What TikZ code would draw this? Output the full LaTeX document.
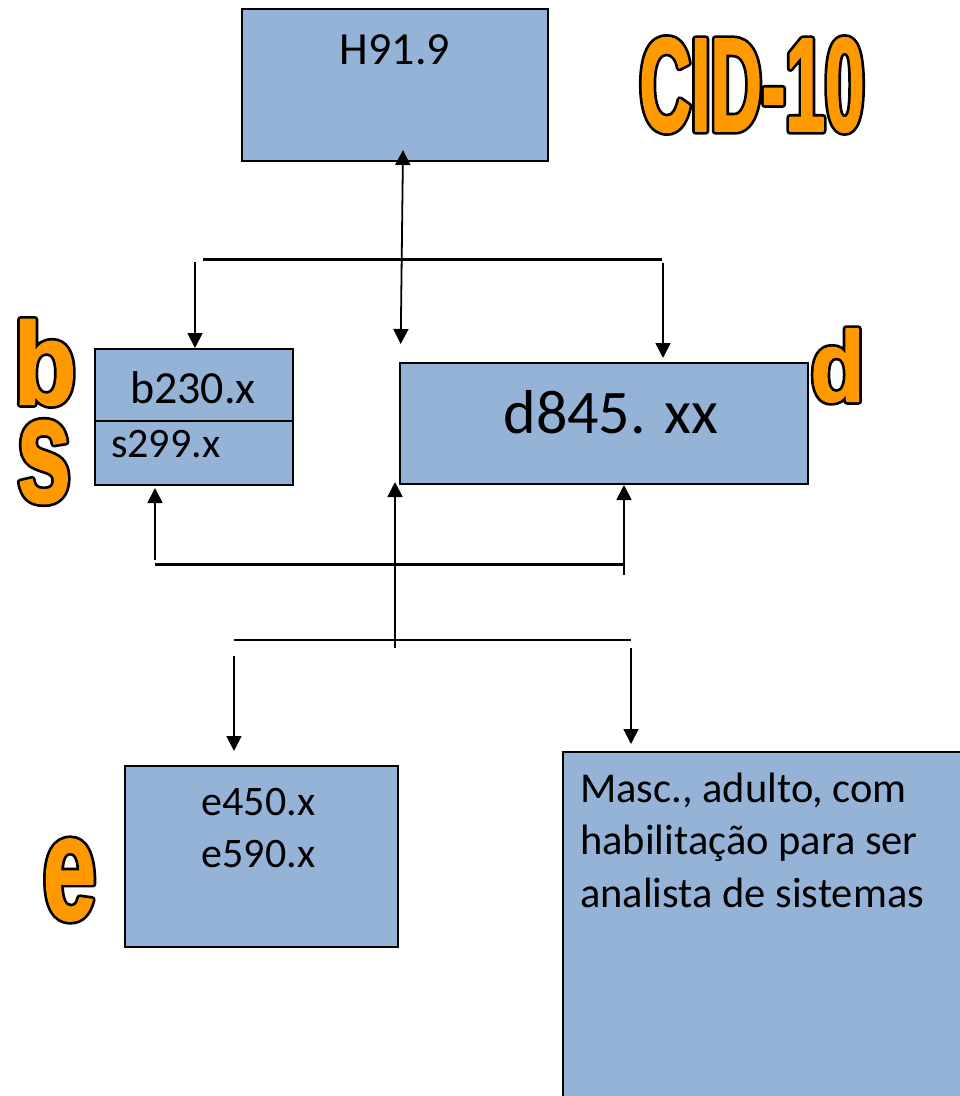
\documentclass[tikz,border=0pt]{standalone}
\usepackage{fontspec}
\setmainfont{Carlito}
\newfontfamily\impcid{Liberation Sans}[FakeStretch=0.53]
\newfontfamily\impbd{Liberation Sans}[FakeStretch=0.88]
\newfontfamily\impse{Liberation Sans}[FakeStretch=0.64]
\usetikzlibrary{arrows.meta}
\definecolor{boxblue}{RGB}{149,179,215}
\definecolor{wordorange}{RGB}{255,153,0}
% black layer: fill + wide black stroke; orange layer: fill + thin orange stroke
\newcommand\blkstrk{\special{pdf:literal direct 0 0 0 RG 2 Tr 7 w 1 j}}
\newcommand\orgstrk{\special{pdf:literal direct 1 0.6 0 RG 2 Tr 1.6 w 1 j}}
\newcommand\unstrk{\special{pdf:literal direct 0 Tr}}
\tikzset{
  box/.style={draw=black, line width=2pt, fill=boxblue, inner sep=0pt, rectangle},
  conn/.style={line width=1.8pt},
  tip/.tip={Triangle[width=15pt,length=15pt]},
  arr/.style={conn, -tip},
  dblarr/.style={conn, tip-tip},
  bar/.style={line width=3pt},
  lbl/.style={inner sep=0pt, anchor=base, text=black},
  wordbg/.style={inner sep=0pt, text=black},
  word/.style={inner sep=0pt, text=wordorange},
}
\newcommand\outlined[4]{% name, position, font, text
  \node[wordbg, font=#3] (#1bg) at (#2) {\blkstrk #4\unstrk};
  \node[word, font=#3] (#1) at (#2) {\orgstrk #4\unstrk};
}
\begin{document}
\begin{tikzpicture}[x=1pt,y=-1pt]
\useasboundingbox (0,0) rectangle (960,1096);
% boxes
\node[box, minimum width=306pt, minimum height=152pt] (h) at (395,85) {};
\node[box, minimum width=198pt, minimum height=136pt] (bs) at (194,417) {};
\coordinate (divy) at (0,421);
\draw[line width=2pt] (bs.west |- divy) -- (bs.east |- divy);
\node[box, minimum width=408pt, minimum height=121pt] (d) at (604,423.5) {};
\node[box, minimum width=273pt, minimum height=181pt] (e) at (261.5,856.5) {};
\node[box, minimum width=402pt, minimum height=350pt, anchor=north west] (masc) at (562,751) {};
% upper connectors
\coordinate (ua) at (403,150);
\coordinate (ub) at (400.7,344);
\draw[dblarr] (ua) -- (ub);
\coordinate (tbl) at (203,259);
\coordinate (tbr) at (662,259);
\draw[bar] (tbl) -- (tbr);
\coordinate (la) at (195,262);
\draw[arr] (la) -- (la |- bs.north);
\coordinate (ra) at (663,263);
\coordinate (rb) at (663,358);
\draw[arr] (ra) -- (rb);
% lower connectors
\coordinate (lbl1) at (155,564);
\coordinate (lbr1) at (625,564);
\draw[bar] (lbl1) -- (lbr1);
\coordinate (lu) at (155,560);
\coordinate (lut) at (155,488);
\draw[arr] (lu) -- (lut);
\coordinate (ru) at (624,575);
\draw[arr] (ru) -- (ru |- d.south);
\coordinate (mu) at (395,648);
\coordinate (mut) at (395,482);
\draw[arr] (mu) -- (mut);
\coordinate (lbl2) at (234,640);
\coordinate (lbr2) at (631,640);
\draw[line width=2pt] (lbl2) -- (lbr2);
\coordinate (ea) at (234,656);
\coordinate (eat) at (234,751);
\draw[arr] (ea) -- (eat);
\coordinate (ma) at (631,648);
\coordinate (mat) at (631,744);
\draw[arr] (ma) -- (mat);
% texts
\node[lbl, font=\fontsize{46}{55}\selectfont] (htxt) at (395,64) {H91.9};
\node[lbl, font=\fontsize{46}{55}\selectfont] (btxt) at (193,403) {b230.x};
\node[lbl, anchor=base west, font=\fontsize{42}{50}\selectfont] (stxt) at (111,457) {s299.x};
\node[lbl, font=\fontsize{62}{74}\selectfont] (dtxt) at (611,433) {d845. xx};
\node[lbl, font=\fontsize{42}{50}\selectfont] (e1) at (258.5,815) {e450.x};
\node[lbl, font=\fontsize{42}{50}\selectfont] (e2) at (258.5,867) {e590.x};
\node[lbl, anchor=base west, font=\fontsize{42.5}{50}\selectfont] (m1) at (580,802) {Masc., adulto, com};
\node[lbl, anchor=base west, font=\fontsize{42.5}{50}\selectfont] (m2) at (580,854.5) {habilitação para ser};
\node[lbl, anchor=base west, font=\fontsize{42.5}{50}\selectfont] (m3) at (580,907) {analista de sistemas};
% outlined orange letters
\outlined{cid}{752,85}{\impcid\bfseries\fontsize{134}{134}\selectfont}{CID-10}
\outlined{bl}{45,362.5}{\impbd\bfseries\fontsize{117}{117}\selectfont}{b}
\outlined{sl}{44,462}{\impse\bfseries\fontsize{152}{152}\selectfont}{s}
\outlined{dl}{837.5,365.5}{\impbd\bfseries\fontsize{100}{100}\selectfont}{d}
\outlined{el}{69.5,880}{\impse\bfseries\fontsize{150}{150}\selectfont}{e}
\end{tikzpicture}
\end{document}
